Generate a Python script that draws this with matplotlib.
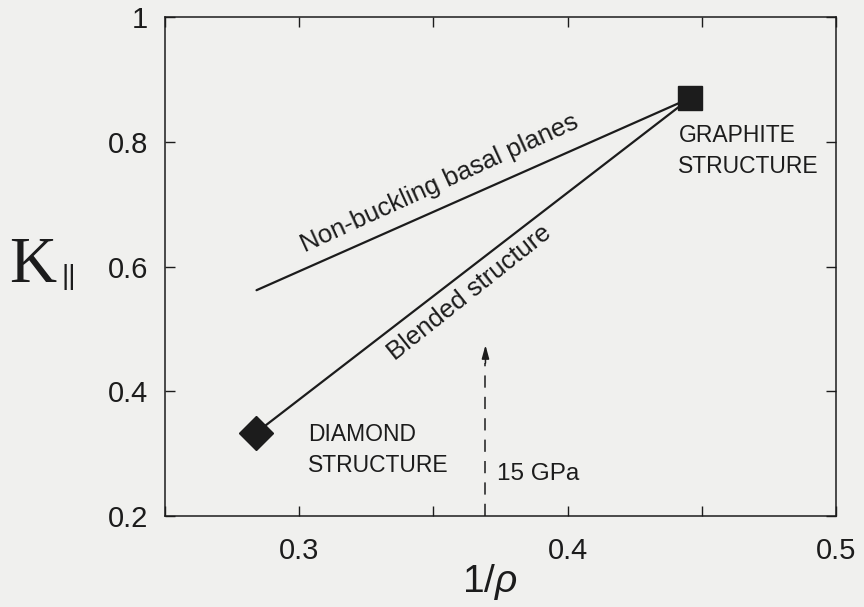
import numpy as np
import matplotlib
matplotlib.use("Agg")
import matplotlib.pyplot as plt

plt.rcParams['font.family'] = ['Liberation Sans', 'DejaVu Sans']
plt.rcParams['mathtext.fontset'] = 'custom'
plt.rcParams['mathtext.rm'] = 'Liberation Sans'
plt.rcParams['mathtext.it'] = 'Liberation Sans:italic'

# data
graphite = (0.4457, 0.870)
diamond = (0.2838, 0.333)
nonbuckling_start = (0.2841, 0.562)
pressure_x = 0.3694
pressure_tip = 0.474
pressure_dash_top = 0.445

x_ticks = [0.25, 0.30, 0.35, 0.40, 0.45, 0.50]
x_labels = ['', '0.3', '', '0.4', '', '0.5']
y_ticks = [0.2, 0.4, 0.6, 0.8, 1.0]
y_labels = ['0.2', '0.4', '0.6', '0.8', '1']

ink = '#1c1c1c'
bg = '#f0f0ee'

fig = plt.figure(figsize=(8.64, 6.07), dpi=100, facecolor=bg)
ax = fig.add_axes([165 / 864, 1 - 516 / 607, (836 - 165) / 864, (516 - 17) / 607])
ax.set_facecolor(bg)

# lines to graphite
ax.plot([nonbuckling_start[0], graphite[0]], [nonbuckling_start[1], graphite[1]],
        color=ink, lw=1.6, solid_capstyle='round')
ax.plot([diamond[0], graphite[0]], [diamond[1], graphite[1]],
        color=ink, lw=1.6, solid_capstyle='round')

ax.plot(*graphite, marker='s', ms=17, color=ink, mec=ink)
ax.plot(*diamond, marker='D', ms=17, color=ink, mec=ink)

# 15 GPa arrow
ax.plot([pressure_x, pressure_x], [0.2, pressure_dash_top], color=ink, lw=1.1,
        dashes=(8, 6))
ax.annotate('', xy=(pressure_x, pressure_tip), xytext=(pressure_x, pressure_dash_top),
            arrowprops=dict(arrowstyle='-|>,head_length=0.8,head_width=0.22',
                            color=ink, lw=1.1, shrinkA=0, shrinkB=0))

ax.text(0.3524, 0.734, 'Non-buckling basal planes', rotation=24.5, fontsize=18.5,
        ha='center', va='center', rotation_mode='anchor', color=ink)
ax.text(0.3636, 0.5575, 'Blended structure', rotation=38.5, fontsize=18.5,
        ha='center', va='center', rotation_mode='anchor', color=ink)
ax.text(0.4413, 0.750, 'GRAPHITE\nSTRUCTURE', fontsize=16.5, ha='left', va='baseline',
        linespacing=1.45, color=ink)
ax.text(0.3032, 0.2705, 'DIAMOND\nSTRUCTURE', fontsize=16.5, ha='left', va='baseline',
        linespacing=1.45, color=ink)
ax.text(0.3737, 0.2577, '15 GPa', fontsize=17.5, ha='left', va='baseline', color=ink)

ax.set_xlim(0.25, 0.5)
ax.set_ylim(0.2, 1.0)
ax.set_xticks(x_ticks)
ax.set_xticklabels(x_labels)
ax.set_yticks(y_ticks)
ax.set_yticklabels(y_labels)
ax.tick_params(direction='in', top=True, right=True, length=7, width=1.0,
               labelsize=21, colors=ink)
ax.tick_params(axis='x', pad=15)
ax.tick_params(axis='y', pad=12)
for s in ax.spines.values():
    s.set_linewidth(1.1)
    s.set_color(ink)

fig.text(490 / 864, 1 - 592 / 607, r'1/$\it{\rho}$', fontsize=28, color=ink,
         ha='center', va='baseline')
fig.text(9 / 864, 1 - 282 / 607, 'K', fontsize=47, family='Liberation Serif',
         color=ink, ha='left', va='baseline')
fig.text(62 / 864, 1 - 284 / 607, '||', fontsize=20, color=ink, ha='left',
         va='baseline')

fig.savefig('out.png', dpi=100, facecolor=bg)
